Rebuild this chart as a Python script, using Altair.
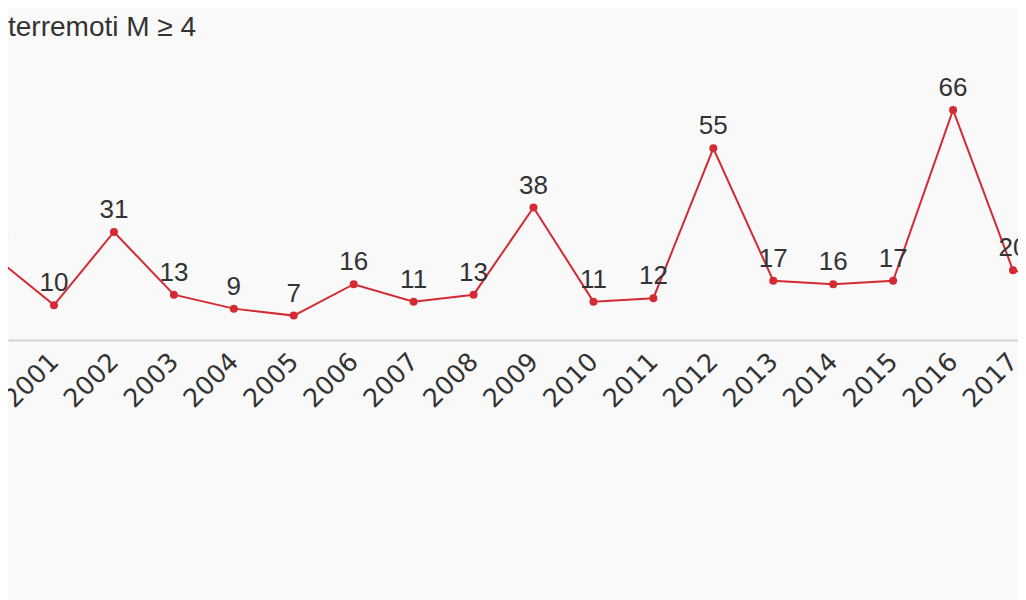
import altair as alt
import pandas as pd

years = list(range(2000, 2019))
counts = [24, 10, 31, 13, 9, 7, 16, 11, 13, 38, 11, 12, 55, 17, 16, 17, 66, 20, 16]
axis_years = list(range(2001, 2019))
title_text = "terremoti M ≥ 4"

RED = "#d42a34"
TXT = "#333333"

df = pd.DataFrame({"anno": years, "n": counts})

x = alt.X(
    "anno:Q",
    scale=alt.Scale(domain=[2000.2326, 2017.0834], nice=False, zero=False),
    axis=alt.Axis(
        values=axis_years, format="d", title=None, grid=False, ticks=False,
        domainColor="#d4d4d4", domainWidth=2,
        labelAngle=-45, labelAlign="right", labelBaseline="middle",
        labelFontSize=25.5, labelFont="DejaVu Sans", labelColor=TXT,
        labelPadding=17, labelFlush=False, labelOverlap=False, labelBound=False,
    ),
)
y = alt.Y("n:Q", scale=alt.Scale(domain=[0, 70], nice=False), axis=None)

base = alt.Chart(df)
line = base.mark_line(color=RED, strokeWidth=2, clip=True).encode(x=x, y=y)
pts = base.mark_circle(color=RED, size=64, opacity=1).encode(x=x, y=y)
labels = base.mark_text(
    dy=-14, baseline="alphabetic", fontSize=26, font="Liberation Sans", color=TXT
).encode(x=x, y=y, text="n:Q")

title = alt.Chart(pd.DataFrame({"t": [title_text]})).mark_text(
    align="left", baseline="alphabetic", fontSize=28, font="Liberation Sans", color=TXT
).encode(x=alt.value(0), y=alt.value(-60), text="t:N")

chart = (
    alt.layer(line, pts, labels, title)
    .properties(
        width=1010,
        height=244,
        autosize=alt.AutoSizeParams(type="none"),
        padding={"left": 0, "top": 88, "right": 0, "bottom": 260},
        background="#f9f9f9",
    )
    .configure_view(stroke=None)
)

chart.save("out.html", embed_options={"renderer": "svg", "actions": False})
